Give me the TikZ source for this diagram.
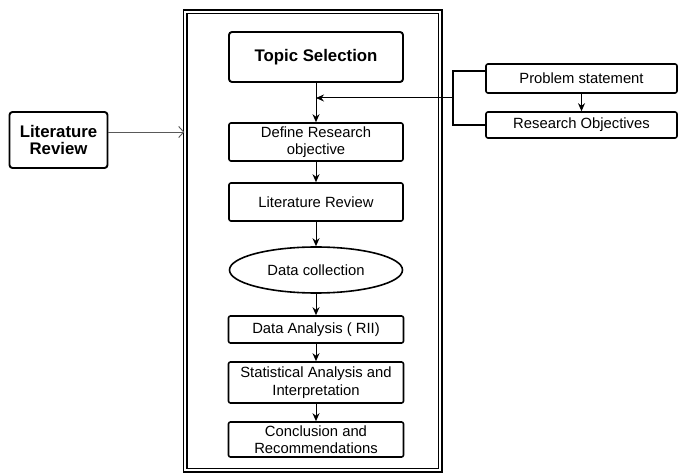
\documentclass[tikz,border=0pt]{standalone}
\usepackage{fontspec}
\setmainfont{Liberation Sans}
\usetikzlibrary{arrows.meta,shapes.geometric}
\begin{document}
\begin{tikzpicture}[x=1pt,y=-1pt,
  box/.style={draw, line width=1.6pt, rounded corners=2pt, align=center, inner sep=1pt,
    font=\fontsize{14.8}{17.5}\selectfont},
  bbox/.style={draw, line width=1.9pt, rounded corners=3pt, align=center, inner sep=1pt,
    font=\fontsize{16.8}{17}\selectfont\bfseries},
  arr/.style={-{Stealth[length=8pt,width=7pt]}, line width=1pt}]
\useasboundingbox (0,0) rectangle (678,473);
\node[draw, double, line width=1.4pt, double distance=2.2pt, minimum width=255pt, minimum height=458pt] (frame) at (312.5,241) {};
\node[bbox, minimum width=174pt, minimum height=50pt] (T) at (316,57) {Topic Selection};
\node[box, minimum width=174pt, minimum height=38pt] (D) at (316,142) {Define Research\\objective};
\node[box, minimum width=174pt, minimum height=38pt] (L) at (316,202) {Literature Review};
\node[box, ellipse, rounded corners=0pt, minimum width=173pt, minimum height=46pt] (C) at (316,270) {Data collection};
\node[box, minimum width=175pt, minimum height=27pt] (A) at (316,329.5) {Data Analysis ( RII)};
\node[box, minimum width=175pt, minimum height=41pt] (S) at (316,382.5) {Statistical Analysis and\\Interpretation};
\node[box, minimum width=175pt, minimum height=35pt] (R) at (316,439.5) {Conclusion and\\Recommendations};
\node[box, minimum width=191pt, minimum height=29pt] (P) at (581.5,78.5) {Problem statement};
\node[box, minimum width=191pt, minimum height=26pt] (O) at (581.5,125) {Research Objectives};
\node[bbox, minimum width=98pt, minimum height=56pt] (LR) at (58.5,140) {Literature\\Review};
\coordinate (j) at (316,98);
\coordinate (b) at (453,98);
\draw[arr] (T) -- (D);
\draw[arr] (D) -- (L);
\draw[arr] (L) -- (C);
\draw[arr] (C) -- (A);
\draw[arr] (A) -- (S);
\draw[arr] (S) -- (R);
\draw[arr] (P) -- (O);
\draw[line width=1.3pt] ([yshift=7.5pt]P.west) -| (b) |- (O.west);
\draw[arr] (b) -- (j);
\draw[-{Straight Barb[length=5pt,width=11pt]}, gray!70!black, line width=0.9pt] ([yshift=8pt]LR.east) -- ([yshift=8pt]LR.east -| frame.west);
\end{tikzpicture}
\end{document}
